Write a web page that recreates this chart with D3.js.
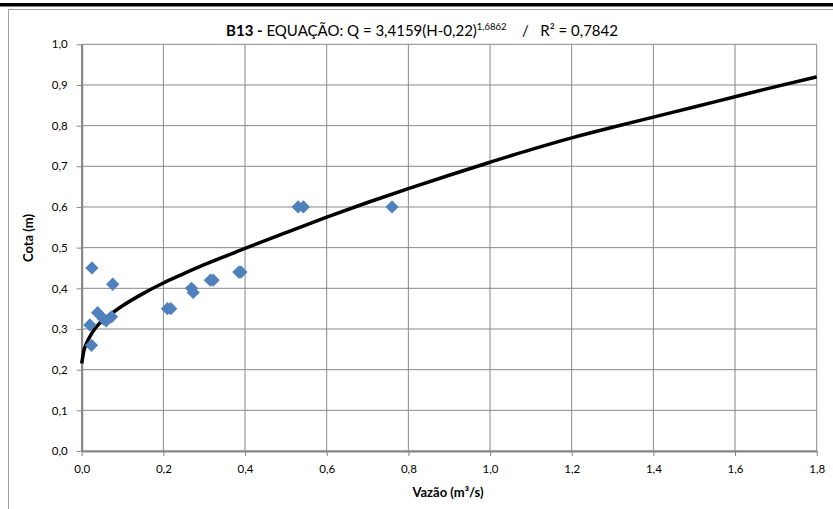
<!DOCTYPE html>
<html>
<head>
<meta charset="utf-8">
<script src="https://cdn.jsdelivr.net/npm/d3@7"></script>
<style>
  body { margin: 0; background: #fff; }
  svg { display: block; font-family: Lato, "Open Sans", sans-serif; }
</style>
</head>
<body>
<div id="chart-container"></div>
<script>
// measured points (vazão, cota)
const vazao = [0.025, 0.02, 0.024, 0.039, 0.053, 0.06, 0.073, 0.076, 0.21, 0.218, 0.269, 0.273, 0.315, 0.322, 0.385, 0.39, 0.53, 0.543, 0.76];
const cota  = [0.45, 0.31, 0.26, 0.34, 0.325, 0.32, 0.33, 0.41, 0.35, 0.35, 0.40, 0.39, 0.42, 0.42, 0.44, 0.44, 0.60, 0.60, 0.60];

// trend line
const curveQ = [0, 0.005, 0.012, 0.025, 0.04, 0.06, 0.08, 0.1, 0.15, 0.2, 0.25, 0.3, 0.4, 0.5, 0.6, 0.7, 0.8, 0.9, 1.0, 1.1, 1.2, 1.3, 1.4, 1.5, 1.6, 1.7, 1.8];
const curveH = [0.215, 0.245, 0.265, 0.29, 0.31, 0.328, 0.343, 0.357, 0.387, 0.413, 0.436, 0.458, 0.498, 0.537, 0.575, 0.611, 0.645, 0.678, 0.71, 0.741, 0.77, 0.796, 0.821, 0.846, 0.871, 0.896, 0.92];

const xTicks = [0, 0.2, 0.4, 0.6, 0.8, 1.0, 1.2, 1.4, 1.6, 1.8];
const yTicks = [0, 0.1, 0.2, 0.3, 0.4, 0.5, 0.6, 0.7, 0.8, 0.9, 1.0];

const width = 833, height = 509;
const margin = { top: 44.3, right: 16.3, bottom: 58, left: 81.7 };
const w = width - margin.left - margin.right;
const h = height - margin.top - margin.bottom;

const svg = d3.select("#chart-container")
    .append("svg")
    .attr("width", width)
    .attr("height", height);

// outer frame
svg.append("rect").attr("x", 0).attr("y", 3).attr("width", width).attr("height", 3.5).attr("fill", "#000");
svg.append("path")
    .attr("d", `M8.5,${height} V9.5 H${width}`)
    .attr("fill", "none")
    .attr("stroke", "#a0a0a0")
    .attr("stroke-width", 1);

const g = svg.append("g").attr("transform", `translate(${margin.left},${margin.top})`);

const x = d3.scaleLinear().domain([0, 1.8]).range([0, w]);
const y = d3.scaleLinear().domain([0, 1.0]).range([h, 0]);
const fmt = v => d3.format(".1f")(v).replace(".", ",");

// gridlines
g.append("g").selectAll("line").data(xTicks).enter().append("line")
    .attr("x1", d => x(d)).attr("x2", d => x(d))
    .attr("y1", 0).attr("y2", h)
    .attr("stroke", "#888").attr("stroke-width", 1);
g.append("g").selectAll("line").data(yTicks).enter().append("line")
    .attr("x1", 0).attr("x2", w)
    .attr("y1", d => y(d)).attr("y2", d => y(d))
    .attr("stroke", "#888").attr("stroke-width", 1);

// axes
const xAxis = g.append("g")
    .attr("transform", `translate(0,${h})`)
    .call(d3.axisBottom(x).tickValues(xTicks).tickFormat(fmt).tickSize(5).tickSizeOuter(0).tickPadding(9));
const yAxis = g.append("g")
    .call(d3.axisLeft(y).tickValues(yTicks).tickFormat(fmt).tickSize(5).tickSizeOuter(0).tickPadding(9));
[xAxis, yAxis].forEach(a => {
    a.select(".domain").attr("stroke", "#868686").attr("stroke-width", 2);
    a.selectAll(".tick line").attr("stroke", "#868686");
    a.selectAll("text").attr("fill", "#000").style("font-size", "11.5px").style("font-family", "Lato, sans-serif");
});

// trend line
const line = d3.line()
    .x((d, i) => x(curveQ[i]))
    .y(d => y(d))
    .curve(d3.curveMonotoneX);
g.append("path")
    .attr("d", line(curveH))
    .attr("fill", "none")
    .attr("stroke", "#000")
    .attr("stroke-width", 3.5);

// markers
const diamond = d3.symbol().type(d3.symbolSquare).size(88);
g.selectAll(".point")
    .data(vazao)
    .enter()
    .append("path")
    .attr("class", "point")
    .attr("d", diamond)
    .attr("transform", (d, i) => `translate(${x(d)},${y(cota[i])}) rotate(45)`)
    .attr("fill", "#4f81bd");

// title
const title = svg.append("text")
    .attr("x", 422).attr("y", 36)
    .attr("text-anchor", "middle")
    .style("font-size", "15px")
    .attr("fill", "#000");
title.append("tspan").attr("font-weight", "bold").text("B13 -");
title.append("tspan").text(" EQUAÇÃO: Q = 3,4159(H-0,22)");
title.append("tspan").attr("dy", -6).style("font-size", "9.5px").text("1,6862");
title.append("tspan").attr("dy", 6).attr("xml:space", "preserve").text("    /   R² = 0,7842");

// axis titles
svg.append("text")
    .attr("x", 448).attr("y", 497)
    .attr("text-anchor", "middle")
    .attr("font-weight", "bold")
    .style("font-size", "13px")
    .text("Vazão (m³/s)");
svg.append("text")
    .attr("transform", "translate(33,238) rotate(-90)")
    .attr("text-anchor", "middle")
    .attr("font-weight", "bold")
    .style("font-size", "13px")
    .text("Cota (m)");
</script>
</body>
</html>
